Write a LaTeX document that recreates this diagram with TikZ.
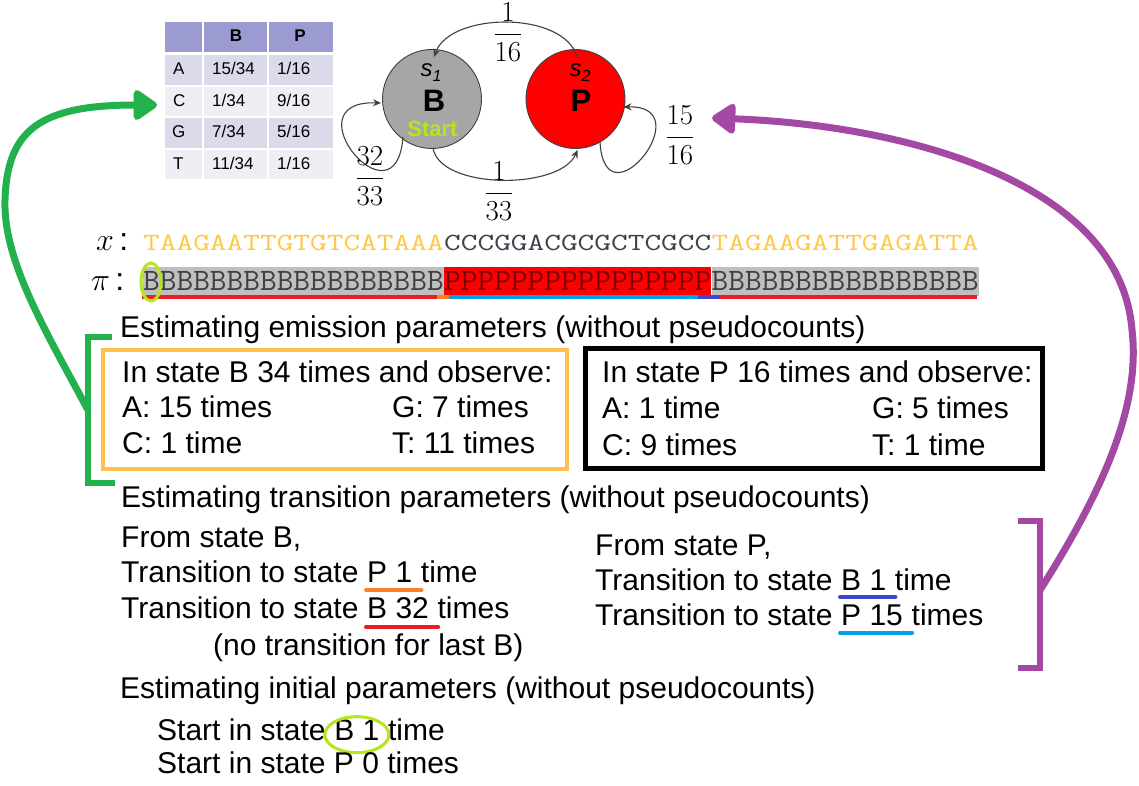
\RequirePackage{fix-cm}
\documentclass[tikz,border=0pt]{standalone}
\usepackage{fontspec}
\setmainfont{Liberation Sans}
\usepackage{graphicx}
\usetikzlibrary{arrows.meta,calc,shapes.geometric}
\definecolor{linegray}{RGB}{64,64,64}
\definecolor{stgray}{RGB}{166,166,166}
\definecolor{yg}{RGB}{181,230,29}
\definecolor{ggreen}{RGB}{34,177,76}
\definecolor{purp}{RGB}{163,73,164}
\definecolor{boxorange}{RGB}{255,192,77}
\definecolor{seqyel}{RGB}{255,200,70}
\definecolor{seqdark}{RGB}{60,66,76}
\definecolor{pigray}{RGB}{191,191,191}
\definecolor{pitext}{RGB}{64,64,64}
\definecolor{pired}{RGB}{120,0,0}
\definecolor{ulorange}{RGB}{255,127,39}
\definecolor{ulred}{RGB}{237,28,36}
\definecolor{uldblue}{RGB}{63,72,204}
\definecolor{ullblue}{RGB}{0,162,232}
\definecolor{thdr}{RGB}{155,155,210}
\definecolor{trowa}{RGB}{218,218,234}
\definecolor{trowb}{RGB}{238,238,245}
\newcommand\seqs[1]{\scalebox{1.247}[0.95]{#1}}
\newcommand\seqp[1]{\scalebox{1.247}[1.2]{#1}}
\begin{document}
\begin{tikzpicture}[x=1pt,y=-1pt,
 txt/.style={inner sep=0pt, anchor=base west, font=\fontsize{30}{36}\selectfont},
 tcell/.style={inner sep=0pt, anchor=base west, font=\fontsize{17}{20}\selectfont},
 thead/.style={inner sep=0pt, anchor=base, font=\fontsize{17}{20}\selectfont\bfseries},
 statebox/.style={circle, draw=linegray, line width=0.9pt, minimum size=99pt, inner sep=0pt},
 edge/.style={draw=linegray, line width=1.1pt, -{Stealth[length=8pt,width=7pt]}},
 frac/.style={inner sep=0pt, anchor=base, font=\fontsize{29}{29}\selectfont},
 seqx/.style={inner sep=0pt, anchor=base west, font=\fontsize{26}{26}\selectfont\ttfamily},
 seqpi/.style={inner xsep=0pt, inner ysep=0pt, minimum height=29pt, anchor=west, font=\fontsize{26}{26}\selectfont\ttfamily},
 ulbar/.style={line width=4pt, line cap=round},
 pibar/.style={line width=4pt},
 bigarrow/.style={line width=7pt, -{Triangle[length=26pt,width=34pt,round]}},
 brack/.style={line width=6pt},
 lbl/.style={inner sep=0pt, anchor=base}
]
\useasboundingbox (0,0) rectangle (1139,786);
\fill[white] (0,0) rectangle (1139,786);

% ---------- table ----------
\fill[thdr] (165,22) rectangle (202,52);
\fill[thdr] (204,22) rectangle (267,52);
\fill[thdr] (269,22) rectangle (333,52);
\foreach \ya/\yb/\c in {55/85/trowa, 87/116/trowb, 118/148/trowa, 150/179/trowb}{
  \fill[\c] (165,\ya) rectangle (202,\yb);
  \fill[\c] (204,\ya) rectangle (267,\yb);
  \fill[\c] (269,\ya) rectangle (333,\yb);
}
\node[thead] (hB) at (236,42) {B};
\node[thead] (hP) at (300,42) {P};
\node[tcell] (rA) at (173,75) {A};
\node[tcell] (rAB) at (212,75) {15/34};
\node[tcell] (rAP) at (277,75) {1/16};
\node[tcell] (rC) at (173,107) {C};
\node[tcell] (rCB) at (212,107) {1/34};
\node[tcell] (rCP) at (277,107) {9/16};
\node[tcell] (rG) at (172,138) {G};
\node[tcell] (rGB) at (212,138) {7/34};
\node[tcell] (rGP) at (277,138) {5/16};
\node[tcell] (rT) at (173,170) {T};
\node[tcell] (rTB) at (212,170) {11/34};
\node[tcell] (rTP) at (277,170) {1/16};

% ---------- states ----------
\node[statebox, fill=stgray] (B) at (432,99) {};
\node[statebox, fill=red] (P) at (575.5,99) {};
\node[lbl, font=\fontsize{24}{24}\selectfont\itshape] (s1) at (431,77) {s\raisebox{-5pt}{\fontsize{16}{16}\selectfont 1}};
\node[lbl, font=\fontsize{31}{31}\selectfont\bfseries] (Bl) at (434,112) {B};
\node[lbl, font=\fontsize{22}{22}\selectfont\bfseries, text=yg] (st) at (432.5,137) {Start};
\node[lbl, font=\fontsize{24}{24}\selectfont\itshape] (s2) at (580,77) {s\raisebox{-5pt}{\fontsize{16}{16}\selectfont 2}};
\node[lbl, font=\fontsize{31}{31}\selectfont\bfseries] (Pl) at (581,112) {P};

\draw[edge] ($(P.center)+(2,-41)$) .. controls (565,10) and (450,12) .. ($(B.center)+(2,-42)$);
\draw[edge] ($(B.center)+(1,49)$) .. controls (440,190) and (560,190) .. ($(P.center)+(2,51)$);
\draw[edge] ($(B.center)+(-29,38)$) .. controls (396,230) and (288,100) .. ($(B.center)+(-51,4)$);
\draw[edge] ($(P.center)+(24.5,43)$) .. controls (605,228) and (702,105) .. ($(P.center)+(48,8)$);

\node[frac] (f116) at (508,41.25) {$\displaystyle\frac{1}{16}$};
\node[frac] (f133) at (499,200.25) {$\displaystyle\frac{1}{33}$};
\node[frac] (f3233) at (370,185.25) {$\displaystyle\frac{32}{33}$};
\node[frac] (f1516) at (680,144.25) {$\displaystyle\frac{15}{16}$};

% ---------- sequences ----------
\node[inner sep=0pt, anchor=base west, font=\fontsize{32}{32}\selectfont] (xl) at (96,250) {$x$\,:};
\node[inner sep=0pt, anchor=base west, font=\fontsize{32}{32}\selectfont] (pil) at (91,290) {$\pi$\,:};
\node[seqx, text=seqyel] (x1) at (143,250) {\seqs{TAAGAATTGTGTCATAAA}};
\node[seqx, text=seqdark] (x2) at (x1.base east) {\seqs{CCCGGACGCGCTCGCC}};
\node[seqx, text=seqyel] (x3) at (x2.base east) {\seqs{TAGAAGATTGAGATTA}};
\node[seqpi, fill=pigray, text=pitext] (p1) at (143,281) {\seqp{BBBBBBBBBBBBBBBBBB}};
\node[seqpi, fill=red, text=pired] (p2) at (p1.east) {\seqp{PPPPPPPPPPPPPPPP}};
\node[seqpi, fill=pigray, text=pitext] (p3) at (p2.east) {\seqp{BBBBBBBBBBBBBBBB}};
\draw[pibar, ulred] (142,297) -- (437,297);
\draw[pibar, ulorange] (437,297) -- (449,297);
\draw[pibar, ullblue] (449,297) -- (698,297);
\draw[pibar, uldblue] (698,297) -- (719,297);
\draw[pibar, ulred] (719,297) -- (977,297);
\draw[yg, line width=3pt] (151,282) ellipse [x radius=10, y radius=19];

% ---------- emission ----------
\node[txt] (em) at (120,337) {Estimating emission parameters (without pseudocounts)};
\node[draw=boxorange, line width=4pt, minimum width=464pt, minimum height=119pt, inner sep=0pt] (obox) at (335,409.5) {};
\node[draw=black, line width=5pt, minimum width=457pt, minimum height=120pt, inner sep=0pt] (kbox) at (813.5,408) {};
\node[txt] (bB) at (122,382) {In state B 34 times and observe:};
\node[txt] (bA) at (122,417) {A: 15 times};
\node[txt] (bC) at (122,453) {C: 1 time};
\node[txt] (bG) at (392,417) {G: 7 times};
\node[txt] (bT) at (392,453) {T: 11 times};
\node[txt] (pB) at (602,382) {In state P 16 times and observe:};
\node[txt] (pA) at (602,418) {A: 1 time};
\node[txt] (pC) at (602,455) {C: 9 times};
\node[txt] (pG) at (872,418) {G: 5 times};
\node[txt] (pT) at (872,455) {T: 1 time};

% ---------- transitions ----------
\node[txt] (tr) at (121,507) {Estimating transition parameters (without pseudocounts)};
\node[txt] (fb) at (121,547) {From state B,};
\node[txt] (tb1) at (121,582) {Transition to state};
\node[txt] (tb1u) at ($(tb1.base east)+(8.3,0)$) {P 1};
\node[txt] (tb1e) at ($(tb1u.base east)+(8.3,0)$) {time};
\draw[ulbar, ulorange] ($(tb1u.base west)+(-1,8)$) -- ($(tb1u.base east)+(9,8)$);
\node[txt] (tb2) at (121,618) {Transition to state};
\node[txt] (tb2u) at ($(tb2.base east)+(8.3,0)$) {B 32};
\node[txt] (tb2e) at ($(tb2u.base east)+(8.3,0)$) {times};
\draw[ulbar, ulred] ($(tb2u.base west)+(-1,9)$) -- ($(tb2u.base east)+(9,9)$);
\node[txt] (nolast) at (213,655) {(no transition for last B)};
\node[txt] (fp) at (595,555) {From state P,};
\node[txt] (tp1) at (595,590) {Transition to state};
\node[txt] (tp1u) at ($(tp1.base east)+(8.3,0)$) {B 1};
\node[txt] (tp1e) at ($(tp1u.base east)+(8.3,0)$) {time};
\draw[ulbar, uldblue] ($(tp1u.base west)+(-1,7)$) -- ($(tp1u.base east)+(9,7)$);
\node[txt] (tp2) at (595,625) {Transition to state};
\node[txt] (tp2u) at ($(tp2.base east)+(8.3,0)$) {P 15};
\node[txt] (tp2e) at ($(tp2u.base east)+(8.3,0)$) {times};
\draw[ulbar, ullblue] ($(tp2u.base west)+(-1,8)$) -- ($(tp2u.base east)+(9,8)$);

% ---------- initial ----------
\node[txt] (ini) at (120,698) {Estimating initial parameters (without pseudocounts)};
\node[txt] (sa) at (157,740) {Start in state};
\node[txt] (sau) at ($(sa.base east)+(8.3,0)$) {B 1};
\node[txt] (sae) at ($(sau.base east)+(8.3,0)$) {time};
\draw[yg, line width=3pt] ($(sau.center)+(0,5)$) ellipse [x radius=32, y radius=18];
\node[txt] (sb) at (157,773) {Start in state P 0 times};

% ---------- brackets and big arrows ----------
\draw[brack, ggreen] (112,337) -- (88,337) -- (88,483) -- (115,483);
\draw[brack, purp] (1018,521) -- (1040,521) -- (1040,668) -- (1018,668);
\coordinate (gs) at (88,410);
\coordinate (ge) at (157,105);
\coordinate (ps) at (1040,590);
\coordinate (pe) at (712,118);
\draw[bigarrow, ggreen] (gs) .. controls (45,330) and (3,260) .. (5,200) .. controls (7,130) and (40,105) .. (ge);
\draw[bigarrow, purp] (ps) .. controls (1110,480) and (1140,400) .. (1132,330) .. controls (1120,180) and (900,125) .. (pe);
\end{tikzpicture}
\end{document}
